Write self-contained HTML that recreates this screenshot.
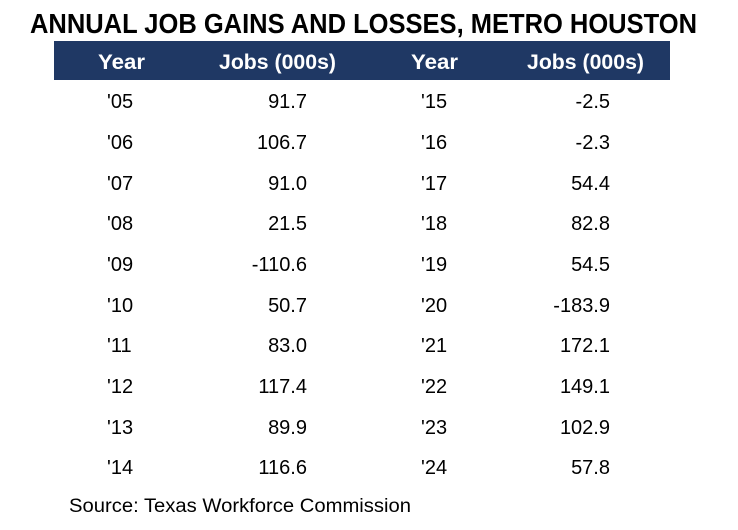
<!DOCTYPE html>
<html><head><meta charset="utf-8"><style>
html,body{margin:0;padding:0;background:#fff;}
svg{display:block;font-family:"Liberation Sans",sans-serif;}
</style></head><body>
<svg width="738" height="530" viewBox="0 0 738 530" xmlns="http://www.w3.org/2000/svg">
<rect width="738" height="530" fill="#fff"/>
<text x="30" y="33" font-size="28" font-weight="bold" textLength="667" lengthAdjust="spacingAndGlyphs" fill="#000">ANNUAL JOB GAINS AND LOSSES, METRO HOUSTON</text>
<rect x="54" y="41" width="616" height="39" fill="#1f3864"/>
<g fill="#fff" font-weight="bold" font-size="21">
<text x="98" y="69" textLength="47" lengthAdjust="spacingAndGlyphs">Year</text>
<text x="219" y="69" textLength="117" lengthAdjust="spacingAndGlyphs">Jobs (000s)</text>
<text x="411" y="69" textLength="47" lengthAdjust="spacingAndGlyphs">Year</text>
<text x="527" y="69" textLength="117" lengthAdjust="spacingAndGlyphs">Jobs (000s)</text>
</g>
<g fill="#000" font-size="20">
<g>
<text x="107" y="108">'05</text><text x="307" y="108" text-anchor="end">91.7</text>
<text x="107" y="149">'06</text><text x="307" y="149" text-anchor="end">106.7</text>
<text x="107" y="190">'07</text><text x="307" y="190" text-anchor="end">91.0</text>
<text x="107" y="230">'08</text><text x="307" y="230" text-anchor="end">21.5</text>
<text x="107" y="271">'09</text><text x="307" y="271" text-anchor="end">-110.6</text>
<text x="107" y="312">'10</text><text x="307" y="312" text-anchor="end">50.7</text>
<text x="107" y="352">'11</text><text x="307" y="352" text-anchor="end">83.0</text>
<text x="107" y="393">'12</text><text x="307" y="393" text-anchor="end">117.4</text>
<text x="107" y="434">'13</text><text x="307" y="434" text-anchor="end">89.9</text>
<text x="107" y="474">'14</text><text x="307" y="474" text-anchor="end">116.6</text>
</g>
<g>
<text x="421" y="108">'15</text><text x="610" y="108" text-anchor="end">-2.5</text>
<text x="421" y="149">'16</text><text x="610" y="149" text-anchor="end">-2.3</text>
<text x="421" y="190">'17</text><text x="610" y="190" text-anchor="end">54.4</text>
<text x="421" y="230">'18</text><text x="610" y="230" text-anchor="end">82.8</text>
<text x="421" y="271">'19</text><text x="610" y="271" text-anchor="end">54.5</text>
<text x="421" y="312">'20</text><text x="610" y="312" text-anchor="end">-183.9</text>
<text x="421" y="352">'21</text><text x="610" y="352" text-anchor="end">172.1</text>
<text x="421" y="393">'22</text><text x="610" y="393" text-anchor="end">149.1</text>
<text x="421" y="434">'23</text><text x="610" y="434" text-anchor="end">102.9</text>
<text x="421" y="474">'24</text><text x="610" y="474" text-anchor="end">57.8</text>
</g>
<text x="69" y="512" font-size="19" textLength="342" lengthAdjust="spacingAndGlyphs">Source: Texas Workforce Commission</text>
</g>
</svg>
</body></html>
